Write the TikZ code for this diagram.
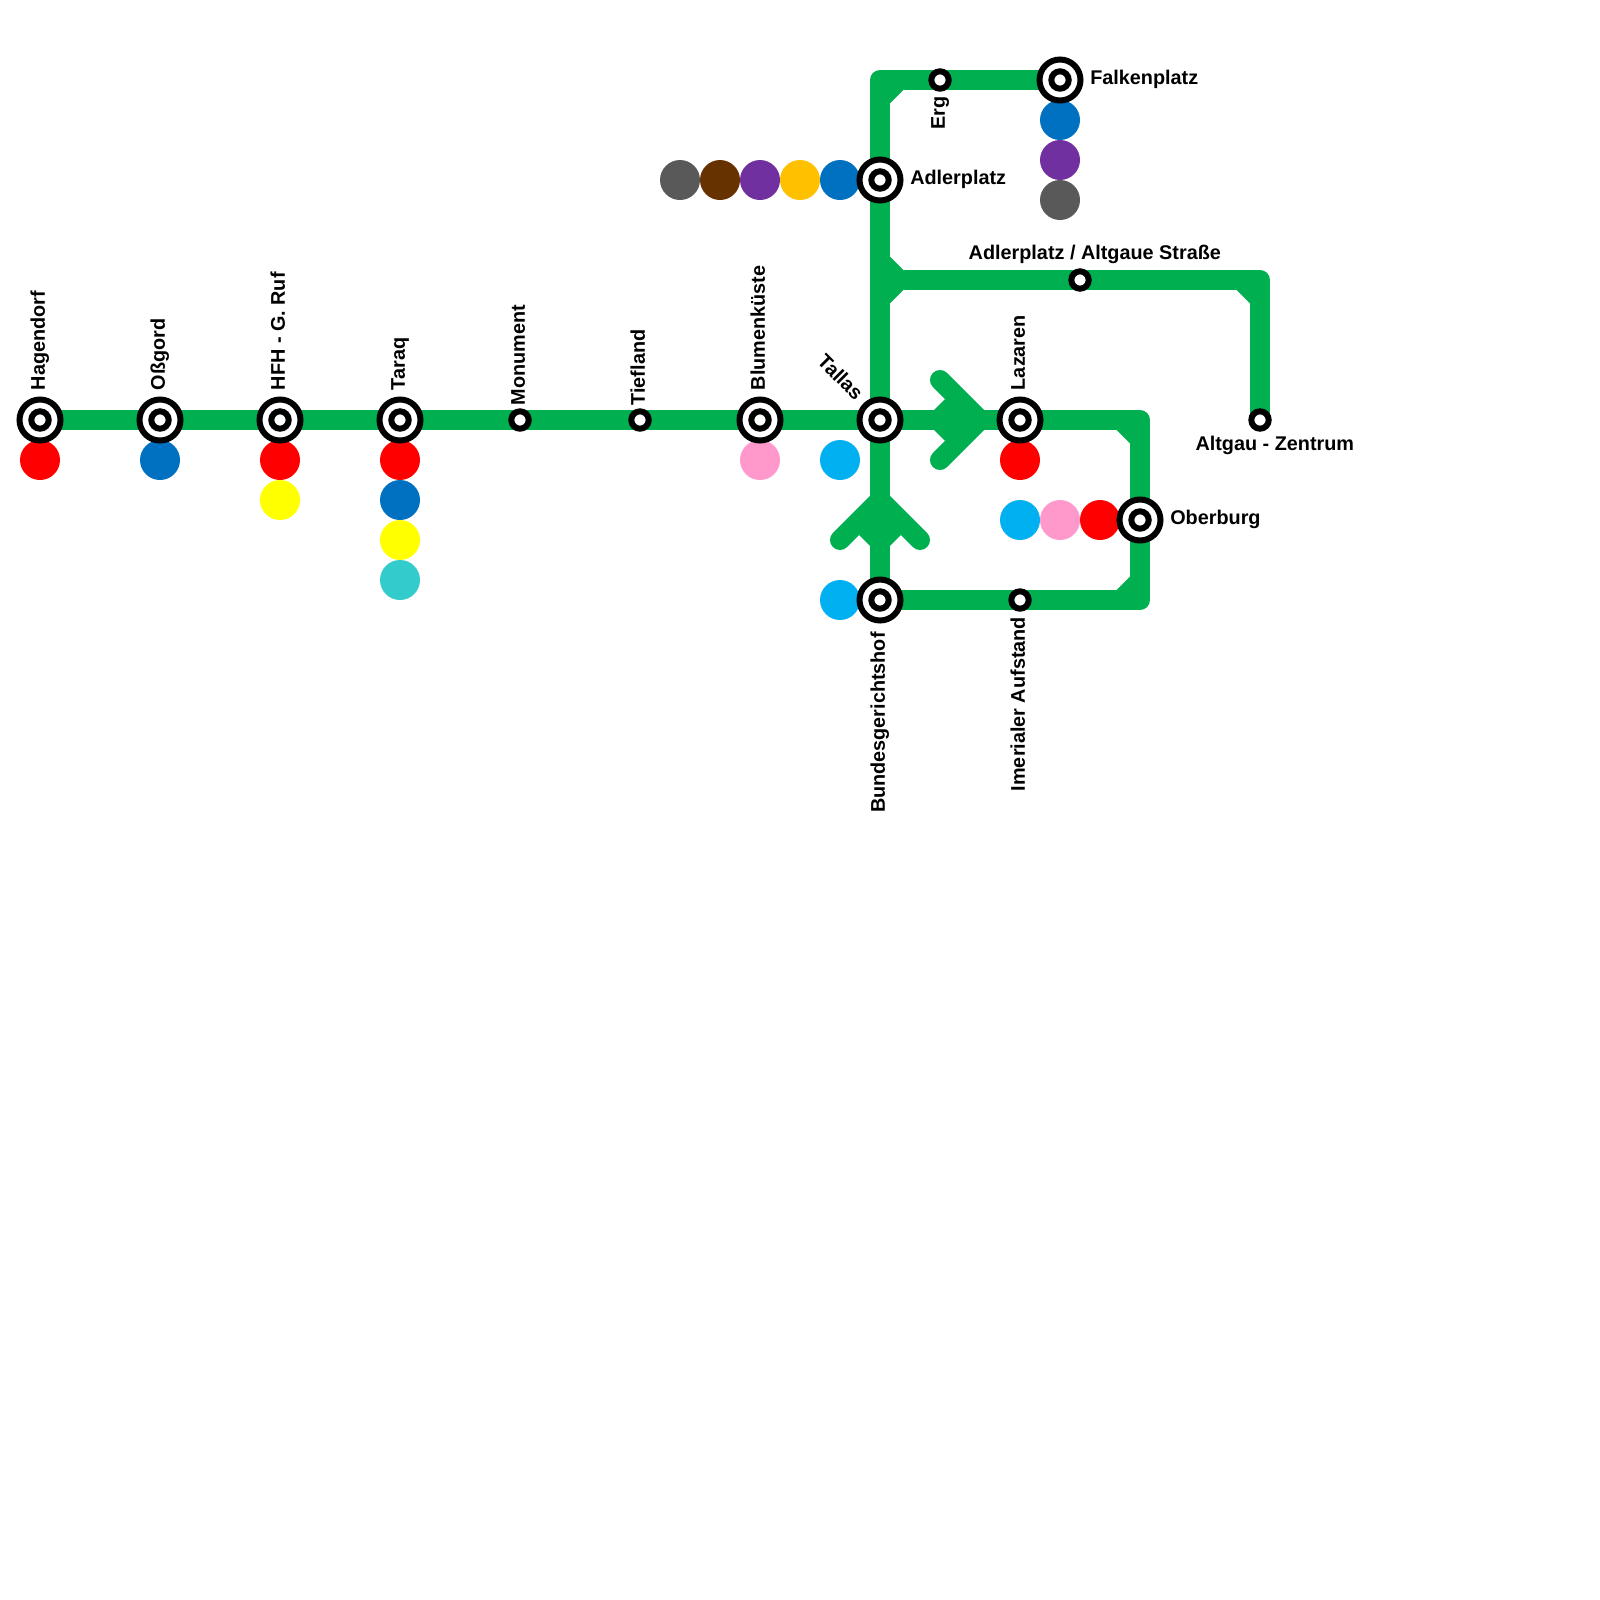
\documentclass[tikz,border=0pt]{standalone}
\usepackage{fontspec}
\setmainfont{Liberation Sans}
\usetikzlibrary{calc,backgrounds}
\definecolor{routegreen}{HTML}{00B050}
\definecolor{mred}{HTML}{FF0000}
\definecolor{mblue}{HTML}{0070C0}
\definecolor{mpurple}{HTML}{7030A0}
\definecolor{mgray}{HTML}{595959}
\definecolor{mbrown}{HTML}{663300}
\definecolor{morange}{HTML}{FFC000}
\definecolor{msky}{HTML}{00B0F0}
\definecolor{mpink}{HTML}{FF99CC}
\definecolor{myellow}{HTML}{FFFF00}
\definecolor{mteal}{HTML}{33CCCC}
\begin{document}
\begin{tikzpicture}[
    route/.style={draw=routegreen, line width=0.5cm, line join=round},
    stop/.style={draw=black, circle, fill=white, line width=0.15cm, minimum size=0.435cm, inner sep=0pt, outer sep=0pt},
    hub/.style={draw=black, circle, fill=white, line width=0.15cm, minimum size=1.025cm, inner sep=0pt, outer sep=0pt, label={[stop]center:{}}},
    linedot/.style={circle, fill=#1, minimum size=1cm, inner sep=0pt, outer sep=0pt},
    lab/.style={font=\fontsize{14.1}{16}\selectfont\bfseries, inner sep=0pt},
    uplab/.style={lab, rotate=90, anchor=base west},
    downlab/.style={lab, rotate=90, anchor=base east},
    sidelab/.style={lab, anchor=base west},
    arrowmark/.pic={
        \fill[routegreen] (-0.875,0.521) -- (-1.146,0.25) -- (-1.146,-0.25) -- (-0.875,-0.521) -- (0,0) -- cycle;
        \draw[route, line cap=round] (-1,1) -- (0,0) -- (-1,-1);
    }
]
\useasboundingbox (0,0) rectangle (40,-40);

% Line dots
\node[linedot=mred] (hagendorfA) at (1,-11.5) {};
\node[linedot=mblue] (ossgordA) at (4,-11.5) {};
\node[linedot=mred] (hfhA) at (7,-11.5) {};
\node[linedot=myellow] (hfhB) at (7,-12.5) {};
\node[linedot=mred] (taraqA) at (10,-11.5) {};
\node[linedot=mblue] (taraqB) at (10,-12.5) {};
\node[linedot=myellow] (taraqC) at (10,-13.5) {};
\node[linedot=mteal] (taraqD) at (10,-14.5) {};
\node[linedot=mpink] (blumenA) at (19,-11.5) {};
\node[linedot=msky] (tallasA) at (21,-11.5) {};
\node[linedot=mred] (lazarenA) at (25.5,-11.5) {};
\node[linedot=mred] (oberburgA) at (27.5,-13) {};
\node[linedot=mpink] (oberburgB) at (26.5,-13) {};
\node[linedot=msky] (oberburgC) at (25.5,-13) {};
\node[linedot=msky] (bundesA) at (21,-15) {};
\node[linedot=mblue] (adlerA) at (21,-4.5) {};
\node[linedot=morange] (adlerB) at (20,-4.5) {};
\node[linedot=mpurple] (adlerC) at (19,-4.5) {};
\node[linedot=mbrown] (adlerD) at (18,-4.5) {};
\node[linedot=mgray] (adlerE) at (17,-4.5) {};
\node[linedot=mblue] (falkenA) at (26.5,-3) {};
\node[linedot=mpurple] (falkenB) at (26.5,-4) {};
\node[linedot=mgray] (falkenC) at (26.5,-5) {};

% Stations
\node[hub] (hagendorf) at (1,-10.5) {};
\node[hub] (ossgord) at (4,-10.5) {};
\node[hub] (hfh) at (7,-10.5) {};
\node[hub] (taraq) at (10,-10.5) {};
\node[stop] (monument) at (13,-10.5) {};
\node[stop] (tiefland) at (16,-10.5) {};
\node[hub] (blumen) at (19,-10.5) {};
\node[hub] (tallas) at (22,-10.5) {};
\node[hub] (lazaren) at (25.5,-10.5) {};
\node[hub] (oberburg) at (28.5,-13) {};
\node[hub] (bundes) at (22,-15) {};
\node[stop] (imerial) at (25.5,-15) {};
\node[hub] (adler) at (22,-4.5) {};
\node[stop] (erg) at (23.5,-2) {};
\node[hub] (falken) at (26.5,-2) {};
\node[stop] (altgaue) at (27,-7) {};
\node[stop] (zentrum) at (31.5,-10.5) {};

% Corners
\coordinate (cornerNW) at (22,-2);
\coordinate (junction) at (22,-7);
\coordinate (cornerNE) at (31.5,-7);
\coordinate (cornerE) at (28.5,-10.5);
\coordinate (cornerSE) at (28.5,-15);

% Labels
\node[uplab] (hagendorfL) at ([shift={(0.12,0.74)}]hagendorf) {Hagendorf};
\node[uplab] (ossgordL) at ([shift={(0.12,0.74)}]ossgord) {Oßgord};
\node[uplab] (hfhL) at ([shift={(0.12,0.74)}]hfh) {HFH - G. Ruf};
\node[uplab] (taraqL) at ([shift={(0.12,0.74)}]taraq) {Taraq};
\node[uplab] (monumentL) at ([shift={(0.12,0.36)}]monument) {Monument};
\node[uplab] (tieflandL) at ([shift={(0.12,0.36)}]tiefland) {Tiefland};
\node[uplab] (blumenL) at ([shift={(0.12,0.74)}]blumen) {Blumenküste};
\node[uplab] (lazarenL) at ([shift={(0.12,0.74)}]lazaren) {Lazaren};
\node[lab, rotate=-45, anchor=base east] (tallasL) at ([shift={(-0.62,0.46)}]tallas) {Tallas};
\node[downlab] (bundesL) at ([shift={(0.12,-0.8)}]bundes) {Bundesgerichtshof};
\node[downlab] (imerialL) at ([shift={(0.12,-0.42)}]imerial) {Imerialer Aufstand};
\node[downlab] (ergL) at ([shift={(0.12,-0.4)}]erg) {Erg};
\node[sidelab] (adlerL) at ([shift={(0.75,-0.12)}]adler.center) {Adlerplatz};
\node[sidelab] (falkenL) at ([shift={(0.75,-0.12)}]falken.center) {Falkenplatz};
\node[sidelab] (oberburgL) at ([shift={(0.75,-0.12)}]oberburg.center) {Oberburg};
\node[lab, anchor=base] (altgaueL) at ([shift={(0.37,0.52)}]altgaue) {Adlerplatz / Altgaue Straße};
\node[lab, anchor=base] (zentrumL) at ([shift={(0.37,-0.75)}]zentrum) {Altgau - Zentrum};

% Route
\begin{scope}[on background layer]
\draw[route] (hagendorf.center) -- (tallas.center) -- (lazaren.center) -- (cornerE) -- (cornerSE) -- (bundes.center);
\draw[route] (bundes.center) -- (cornerNW) -- (falken.center);
\draw[route] (junction) -- (cornerNE) -- (zentrum.center);
\foreach \c/\sx/\sy in {cornerNW/1/-1, junction/1/1, junction/1/-1, cornerNE/-1/-1, cornerE/-1/-1, cornerSE/-1/1}
    \fill[routegreen] (\c) -- ++(\sx*0.583,\sy*0.25) -- ++(-\sx*0.333,\sy*0.333) -- cycle;
\pic at (24.5,-10.5) {arrowmark};
\pic[rotate=90] at (22,-12.5) {arrowmark};
\end{scope}

\end{tikzpicture}
\end{document}
